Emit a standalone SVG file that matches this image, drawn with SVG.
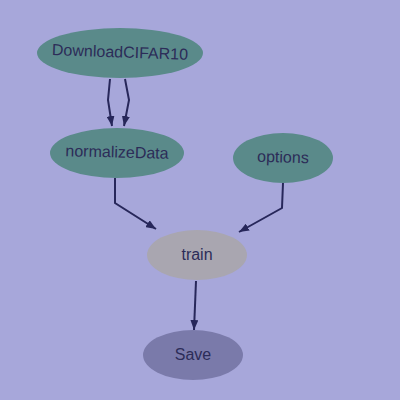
<svg xmlns="http://www.w3.org/2000/svg" width="400" height="400" viewBox="0 0 400 400">
<defs>
<style>
.n{stroke:none}
.t{font-family:"Liberation Sans",Arial,sans-serif;font-size:16px;fill:#2c2c58;text-anchor:middle;dominant-baseline:central}
.e{fill:none;stroke:#27275a;stroke-width:2}
</style>
<marker id="a" viewBox="0 0 10 10" refX="9" refY="5" markerWidth="5" markerHeight="5" orient="auto" markerUnits="userSpaceOnUse" style="overflow:visible">
<path d="M0,0 L10,5 L0,10 z" fill="#27275a" transform="scale(1)"/>
</marker>
<marker id="b" viewBox="0 0 10 8" refX="10" refY="4" markerWidth="10" markerHeight="8" orient="auto" markerUnits="userSpaceOnUse">
<path d="M0,0 L10,4 L0,8 z" fill="#27275a"/>
</marker>
</defs>
<rect width="400" height="400" fill="#a7a7da"/>
<g id="connectors">
<polyline class="e" points="110,79 108,100 112,126" marker-end="url(#b)"/>
<polyline class="e" points="125,79 129,100 124,126" marker-end="url(#b)"/>
<polyline class="e" points="115,178 115,203 156,229" marker-end="url(#b)"/>
<polyline class="e" points="283,183 282,208 239,232" marker-end="url(#b)"/>
<polyline class="e" points="196,281 194,330" marker-end="url(#b)"/>
</g>
<g id="DownloadCIFAR10">
<ellipse class="n" cx="120" cy="53" rx="83" ry="25" fill="#5a8a8a"/>
<text class="t" x="120" y="52" transform="rotate(2 120 52)">DownloadCIFAR10</text>
</g>
<g id="normalizeData">
<ellipse class="n" cx="117" cy="153" rx="67" ry="25" fill="#5a8a8a"/>
<text class="t" x="117" y="152" transform="rotate(1.5 117 152)">normalizeData</text>
</g>
<g id="options">
<ellipse class="n" cx="283" cy="158" rx="50" ry="25" fill="#5a8a8a"/>
<text class="t" x="283" y="157" transform="rotate(1.5 283 157)">options</text>
</g>
<g id="train">
<ellipse class="n" cx="197" cy="255" rx="50" ry="25" fill="#a9a6b0"/>
<text class="t" x="197" y="254">train</text>
</g>
<g id="Save">
<ellipse class="n" cx="193" cy="355" rx="50" ry="25" fill="#7a7aaa"/>
<text class="t" x="193" y="354">Save</text>
</g>
</svg>
